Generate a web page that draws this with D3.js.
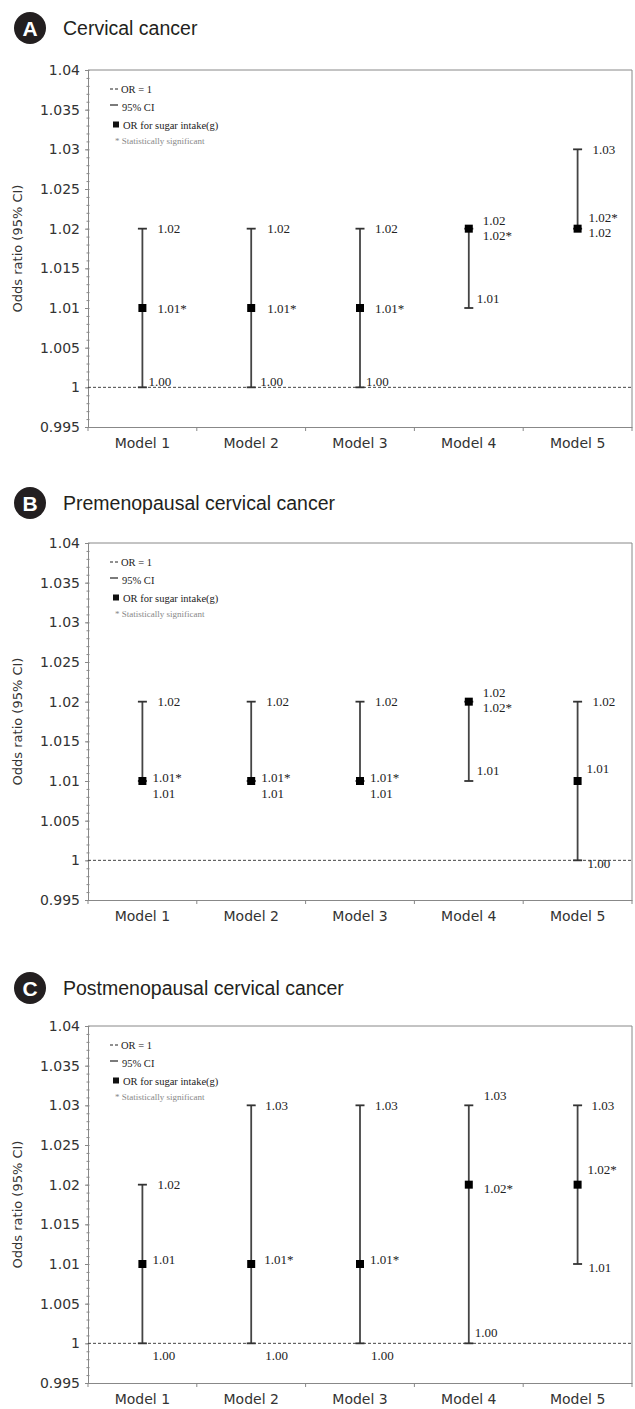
<!DOCTYPE html>
<html>
<head>
<meta charset="utf-8">
<title>Odds ratio for sugar intake</title>
<script src="https://cdn.jsdelivr.net/npm/d3@7"></script>
<style>
  body { margin: 0; background: #fff; }
  svg { display: block; }
  .tick text { font-family: "DejaVu Sans", sans-serif; fill: #333; }
  .val { font-family: "Liberation Serif", "Times New Roman", serif; font-size: 13px; fill: #222; }
  .leg { font-family: "Liberation Serif", "Times New Roman", serif; font-size: 10.5px; fill: #222; }
  .leg.note { font-size: 9px; fill: #888; }
</style>
</head>
<body>
<svg width="635" height="1409"></svg>
<script>
// categories and axis ticks
const models = ['Model 1', 'Model 2', 'Model 3', 'Model 4', 'Model 5'];
const yTicks = [0.995, 1, 1.005, 1.01, 1.015, 1.02, 1.025, 1.03, 1.035, 1.04];
const yTickLabels = ['0.995', '1', '1.005', '1.01', '1.015', '1.02', '1.025', '1.03', '1.035', '1.04'];

// A - cervical cancer
const orA = [1.01, 1.01, 1.01, 1.02, 1.02];
const loA = [1.00, 1.00, 1.00, 1.01, 1.02];
const hiA = [1.02, 1.02, 1.02, 1.02, 1.03];
const sigA = [true, true, true, true, true];

// B - premenopausal
const orB = [1.01, 1.01, 1.01, 1.02, 1.01];
const loB = [1.01, 1.01, 1.01, 1.01, 1.00];
const hiB = [1.02, 1.02, 1.02, 1.02, 1.02];
const sigB = [true, true, true, true, false];

// C - postmenopausal
const orC = [1.01, 1.01, 1.01, 1.02, 1.02];
const loC = [1.00, 1.00, 1.00, 1.00, 1.01];
const hiC = [1.02, 1.03, 1.03, 1.03, 1.03];
const sigC = [false, true, true, true, true];

// where each number sits next to its bar: [dx, dy] for hi, or, lo
const placeA = [
  [[15, 0], [15, 0], [6, -6]],
  [[16, 0], [16, 0], [9, -6]],
  [[15, 0], [15, 0], [6, -6]],
  [[14, -8], [14, 7], [8, -10]],
  [[15, 0], [11, -11], [11, 4]]
];
const placeB = [
  [[15, 0], [10, -4], [10, 12]],
  [[15, 0], [10, -4], [10, 12]],
  [[15, 0], [10, -4], [10, 12]],
  [[14, -9], [14, 6], [8, -11]],
  [[15, 0], [9, -13], [10, 3]]
];
const placeC = [
  [[15, 0], [10, -5], [10, 12]],
  [[14, 0], [13, -5], [14, 12]],
  [[15, 0], [10, -5], [11, 12]],
  [[15, -10], [15, 4], [6, -11]],
  [[14, 0], [10, -15], [11, 3]]
];

const svg = d3.select('svg');
svg.append('rect').attr('width', 635).attr('height', 1409).attr('fill', '#fff');

const left = 88, right = 632, plotH = 357;

const drawPanel = (letter, title, top, headY, or, lo, hi, sig, place) => {
  // header badge + title
  svg.append('circle').attr('cx', 30).attr('cy', headY).attr('r', 16).attr('fill', '#231f20');
  svg.append('text').attr('x', 30).attr('y', headY + 7.5)
    .attr('text-anchor', 'middle')
    .attr('font-family', 'Liberation Sans, Arial, sans-serif')
    .attr('font-weight', 'bold').attr('font-size', 21).attr('fill', '#fff')
    .text(letter);
  svg.append('text').attr('x', 63).attr('y', headY + 7)
    .attr('font-family', 'Liberation Sans, Arial, sans-serif')
    .attr('font-size', 19.5).attr('fill', '#231f20')
    .text(title);

  const y = d3.scaleLinear().domain([0.995, 1.04]).range([top + plotH, top]);
  const x = d3.scaleBand().domain(models).range([left, right]);

  const g = svg.append('g');

  // frame (top, right)
  g.append('path')
    .attr('d', `M${left},${top}H${right}V${top + plotH}`)
    .attr('fill', 'none').attr('stroke', '#888').attr('stroke-width', 1);

  // minor ticks
  const minor = d3.range(0, 46).map(i => +(0.995 + i * 0.001).toFixed(3));
  const minorAxis = d3.axisLeft(y).tickValues(minor).tickSize(3).tickFormat('');
  const minG = g.append('g').attr('transform', `translate(${left + 1.5},0)`).call(minorAxis);
  minG.select('.domain').remove();
  minG.selectAll('.tick line').attr('stroke', '#888');

  // y axis
  const yAxis = d3.axisLeft(y).tickValues(yTicks)
    .tickFormat((d, i) => yTickLabels[i])
    .tickSizeInner(3).tickSizeOuter(0).tickPadding(5);
  const yG = g.append('g').attr('transform', `translate(${left},0)`).call(yAxis);
  yG.select('.domain').attr('stroke', '#888');
  yG.selectAll('.tick line').attr('stroke', '#888');
  yG.selectAll('.tick text').attr('font-size', 14);

  g.append('text')
    .attr('transform', `translate(22,${top + plotH / 2}) rotate(-90)`)
    .attr('text-anchor', 'middle')
    .attr('font-family', 'DejaVu Sans, sans-serif')
    .attr('font-size', 13).attr('fill', '#333')
    .text('Odds ratio (95% CI)');

  // x axis: labels at band centers, ticks at band edges
  const xAxis = d3.axisBottom(x).tickSize(0).tickPadding(11);
  const xG = g.append('g').attr('transform', `translate(0,${top + plotH})`).call(xAxis);
  xG.select('.domain').attr('stroke', '#888');
  xG.selectAll('.tick text').attr('font-size', 14);
  const edges = d3.range(models.length + 1).map(i => left + i * x.step());
  g.selectAll('.xedge').data(edges).enter().append('line')
    .attr('x1', d => d).attr('x2', d => d)
    .attr('y1', top + plotH).attr('y2', top + plotH + 4)
    .attr('stroke', '#888');

  // reference line OR = 1
  g.append('line')
    .attr('x1', left).attr('x2', right)
    .attr('y1', y(1)).attr('y2', y(1))
    .attr('stroke', '#444').attr('stroke-dasharray', '3,2');

  // legend
  const lx = 110;
  g.append('line').attr('x1', lx).attr('x2', lx + 8).attr('y1', top + 19).attr('y2', top + 19)
    .attr('stroke', '#222').attr('stroke-dasharray', '3,2');
  g.append('text').attr('class', 'leg').attr('x', lx + 11).attr('y', top + 22.5).text('OR = 1');
  g.append('line').attr('x1', lx).attr('x2', lx + 8).attr('y1', top + 35).attr('y2', top + 35)
    .attr('stroke', '#222').attr('stroke-width', 1.2);
  g.append('text').attr('class', 'leg').attr('x', lx + 12).attr('y', top + 40.5).text('95% CI');
  g.append('rect').attr('x', lx + 3).attr('y', top + 51.5).attr('width', 6).attr('height', 6).attr('fill', '#111');
  g.append('text').attr('class', 'leg').attr('x', lx + 13).attr('y', top + 58.5).text('OR for sugar intake(g)');
  g.append('text').attr('class', 'leg note').attr('x', lx + 5).attr('y', top + 74)
    .text('* Statistically significant');

  // error bars
  const rows = models.map((m, i) => ({ m, or: or[i], lo: lo[i], hi: hi[i], sig: sig[i], p: place[i] }));
  const cx = d => x(d.m) + x.bandwidth() / 2;
  const bars = g.selectAll('.bar').data(rows).enter().append('g');
  bars.append('line')
    .attr('x1', cx).attr('x2', cx)
    .attr('y1', d => y(d.lo)).attr('y2', d => y(d.hi))
    .attr('stroke', '#444').attr('stroke-width', 1.8);
  ['lo', 'hi'].forEach(k => {
    bars.append('line')
      .attr('x1', d => cx(d) - 4.5).attr('x2', d => cx(d) + 4.5)
      .attr('y1', d => y(d[k])).attr('y2', d => y(d[k]))
      .attr('stroke', '#333').attr('stroke-width', 1.8);
  });
  bars.append('rect')
    .attr('x', d => cx(d) - 4).attr('y', d => y(d.or) - 4)
    .attr('width', 8).attr('height', 8).attr('fill', '#000');

  // value labels
  const lab = [
    { k: 'hi', j: 0, t: d => d.hi.toFixed(2) },
    { k: 'or', j: 1, t: d => d.or.toFixed(2) + (d.sig ? '*' : '') },
    { k: 'lo', j: 2, t: d => d.lo.toFixed(2) }
  ];
  lab.forEach(l => {
    bars.append('text').attr('class', 'val')
      .attr('x', d => cx(d) + d.p[l.j][0])
      .attr('y', d => y(d[l.k]) + d.p[l.j][1] + 4.5)
      .text(l.t);
  });
};

drawPanel('A', 'Cervical cancer', 70, 28, orA, loA, hiA, sigA, placeA);
drawPanel('B', 'Premenopausal cervical cancer', 543, 503, orB, loB, hiB, sigB, placeB);
drawPanel('C', 'Postmenopausal cervical cancer', 1026, 988, orC, loC, hiC, sigC, placeC);
</script>
</body>
</html>
